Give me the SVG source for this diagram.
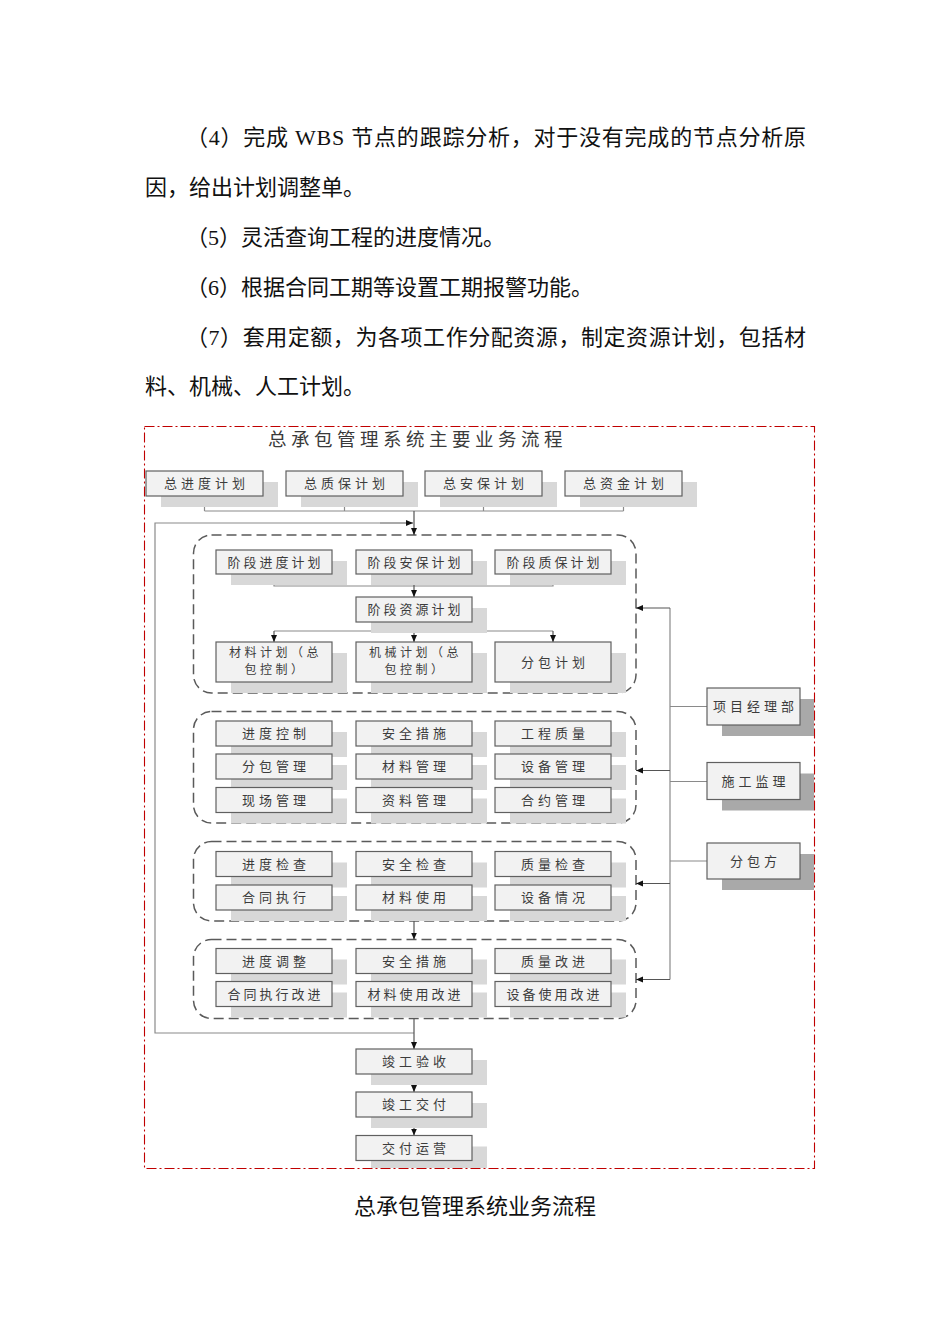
<svg xmlns="http://www.w3.org/2000/svg" width="950" height="1344" viewBox="0 0 950 1344">
<defs>
<style>
.p{font-family:"Liberation Serif","Noto Sans CJK SC",serif;font-size:22px;fill:#111}
.cap{font-family:"Noto Sans CJK SC",sans-serif;font-size:22px;fill:#111;text-anchor:middle}
.ttl{font-family:"Noto Sans CJK SC",sans-serif;font-size:18.5px;fill:#3a3a3a;letter-spacing:4.5px}
.bx{fill:#f2f2f2;stroke:#606060;stroke-width:1.2}
.sh{fill:#d8d8d8}
.shd{fill:#a9a9a9}
.t{font-family:"Noto Sans CJK SC",sans-serif;font-size:13px;fill:#3c3c3c;letter-spacing:4px;text-anchor:middle}
.t2{letter-spacing:3px}
.t3{font-size:12px;letter-spacing:3.5px}
.grp{fill:none;stroke:#5a5a5a;stroke-width:1.5;stroke-dasharray:10 5}
.ln{fill:none;stroke:#8a8a8a;stroke-width:1.2}
.ar{fill:none;stroke:#555;stroke-width:1.2;marker-end:url(#arw)}
.frame{fill:none;stroke:#c00000;stroke-width:1.1;stroke-dasharray:10 3 2 3}
</style>
<marker id="arw" markerUnits="userSpaceOnUse" markerWidth="8" markerHeight="7" refX="7" refY="3" orient="auto">
<path d="M0,0 L7,3 L0,6 z" fill="#111"/>
</marker>
</defs>
<rect width="950" height="1344" fill="#fff"/>

<g id="body-text">
<text class="p" x="186" y="145" textLength="620" lengthAdjust="spacing">（4）完成 WBS 节点的跟踪分析，对于没有完成的节点分析原</text>
<text class="p" x="145" y="195">因，给出计划调整单。</text>
<text class="p" x="186" y="245">（5）灵活查询工程的进度情况。</text>
<text class="p" x="186" y="295">（6）根据合同工期等设置工期报警功能。</text>
<text class="p" x="186" y="345" textLength="620" lengthAdjust="spacing">（7）套用定额，为各项工作分配资源，制定资源计划，包括材</text>
<text class="p" x="145" y="394">料、机械、人工计划。</text>
</g>

<rect class="frame" x="144.5" y="426.5" width="670" height="742"/>
<text class="ttl" x="268" y="446">总承包管理系统主要业务流程</text>

<g id="groups">
<rect id="grp-stage" class="grp" x="193.5" y="535" width="442.5" height="158" rx="18"/>
<rect id="grp-manage" class="grp" x="193.5" y="711.5" width="442.5" height="111.5" rx="18"/>
<rect id="grp-check" class="grp" x="193.5" y="841.5" width="442.5" height="79.5" rx="18"/>
<rect id="grp-improve" class="grp" x="193.5" y="939.5" width="442.5" height="79" rx="18"/>
</g>

<g id="connectors">
<path class="ln" d="M204.5,496 V511 M344.5,496 V511 M483.5,496 V511 M623.5,496 V511 M204.5,511 H623.5"/>
<path class="ar" d="M414,511 V535"/>
<path class="ln" d="M414,1033 H155 V523 H380"/>
<path class="ar" d="M380,523 H413"/>
<path class="ln" d="M274,574 V586 H553 V574"/>
<path class="ar" d="M414,574 V597"/>
<path class="ln" d="M414,622 V631 M274,631 H553"/>
<path class="ar" d="M274,631 V642"/>
<path class="ar" d="M414,631 V642"/>
<path class="ar" d="M553,631 V642"/>
<path class="ln" d="M707,706.5 H670 M707,781.5 H670 M707,861 H670 M670,608 V979.5"/>
<path class="ar" d="M670,608 H636"/>
<path class="ar" d="M670,770.5 H636"/>
<path class="ar" d="M670,883.5 H636"/>
<path class="ar" d="M670,979.5 H636"/>
<path class="ar" d="M414,921 V939.5"/>
<path class="ar" d="M414,1018.5 V1049"/>
<path class="ar" d="M414,1074 V1092"/>
<path class="ar" d="M414,1117 V1135.5"/>
</g>

<g id="n-zjd"><rect class="sh" x="161" y="482" width="117" height="25"/><rect class="bx" x="146" y="471" width="117" height="25"/><text class="t" x="206.5" y="488">总进度计划</text></g>
<g id="n-zzb"><rect class="sh" x="301" y="482" width="117" height="25"/><rect class="bx" x="286" y="471" width="117" height="25"/><text class="t" x="346.5" y="488">总质保计划</text></g>
<g id="n-zab"><rect class="sh" x="440" y="482" width="117" height="25"/><rect class="bx" x="425" y="471" width="117" height="25"/><text class="t" x="485.5" y="488">总安保计划</text></g>
<g id="n-zzj"><rect class="sh" x="580" y="482" width="117" height="25"/><rect class="bx" x="565" y="471" width="117" height="25"/><text class="t" x="625.5" y="488">总资金计划</text></g>

<g id="n-jdjd"><rect class="sh" x="231" y="561" width="116" height="24"/><rect class="bx" x="216" y="550" width="116" height="24"/><text class="t t2" x="275.5" y="566.5">阶段进度计划</text></g>
<g id="n-jdab"><rect class="sh" x="371" y="561" width="116" height="24"/><rect class="bx" x="356" y="550" width="116" height="24"/><text class="t t2" x="415.5" y="566.5">阶段安保计划</text></g>
<g id="n-jdzb"><rect class="sh" x="510" y="561" width="116" height="24"/><rect class="bx" x="495" y="550" width="116" height="24"/><text class="t t2" x="554.5" y="566.5">阶段质保计划</text></g>
<g id="n-jdzy"><rect class="sh" x="371" y="608" width="116" height="25"/><rect class="bx" x="356" y="597" width="116" height="25"/><text class="t t2" x="415.5" y="614">阶段资源计划</text></g>

<g id="n-clxh"><rect class="sh" x="231" y="653" width="116" height="40"/><rect class="bx" x="216" y="642" width="116" height="40"/><text class="t t3" x="275.5" y="656.5">材料计划（总</text><text class="t t3" x="275.5" y="674">包控制）</text></g>
<g id="n-jxjh"><rect class="sh" x="371" y="653" width="116" height="40"/><rect class="bx" x="356" y="642" width="116" height="40"/><text class="t t3" x="415.5" y="656.5">机械计划（总</text><text class="t t3" x="415.5" y="674">包控制）</text></g>
<g id="n-fbjh"><rect class="sh" x="510" y="653" width="116" height="40"/><rect class="bx" x="495" y="642" width="116" height="40"/><text class="t" x="555" y="666.5">分包计划</text></g>

<g id="n-jdkz"><rect class="sh" x="231" y="732" width="116" height="25"/><rect class="bx" x="216" y="721" width="116" height="25"/><text class="t" x="276" y="738">进度控制</text></g>
<g id="n-aqcs"><rect class="sh" x="371" y="732" width="116" height="25"/><rect class="bx" x="356" y="721" width="116" height="25"/><text class="t" x="416" y="738">安全措施</text></g>
<g id="n-gczl"><rect class="sh" x="510" y="732" width="116" height="25"/><rect class="bx" x="495" y="721" width="116" height="25"/><text class="t" x="555" y="738">工程质量</text></g>
<g id="n-fbgl"><rect class="sh" x="231" y="765" width="116" height="25"/><rect class="bx" x="216" y="754" width="116" height="25"/><text class="t" x="276" y="771">分包管理</text></g>
<g id="n-clgl"><rect class="sh" x="371" y="765" width="116" height="25"/><rect class="bx" x="356" y="754" width="116" height="25"/><text class="t" x="416" y="771">材料管理</text></g>
<g id="n-sbgl"><rect class="sh" x="510" y="765" width="116" height="25"/><rect class="bx" x="495" y="754" width="116" height="25"/><text class="t" x="555" y="771">设备管理</text></g>
<g id="n-xcgl"><rect class="sh" x="231" y="798.5" width="116" height="25"/><rect class="bx" x="216" y="787.5" width="116" height="25"/><text class="t" x="276" y="804.5">现场管理</text></g>
<g id="n-zlgl"><rect class="sh" x="371" y="798.5" width="116" height="25"/><rect class="bx" x="356" y="787.5" width="116" height="25"/><text class="t" x="416" y="804.5">资料管理</text></g>
<g id="n-hygl"><rect class="sh" x="510" y="798.5" width="116" height="25"/><rect class="bx" x="495" y="787.5" width="116" height="25"/><text class="t" x="555" y="804.5">合约管理</text></g>

<g id="n-jdjc"><rect class="sh" x="231" y="862.5" width="116" height="25"/><rect class="bx" x="216" y="851.5" width="116" height="25"/><text class="t" x="276" y="868.5">进度检查</text></g>
<g id="n-aqjc"><rect class="sh" x="371" y="862.5" width="116" height="25"/><rect class="bx" x="356" y="851.5" width="116" height="25"/><text class="t" x="416" y="868.5">安全检查</text></g>
<g id="n-zljc"><rect class="sh" x="510" y="862.5" width="116" height="25"/><rect class="bx" x="495" y="851.5" width="116" height="25"/><text class="t" x="555" y="868.5">质量检查</text></g>
<g id="n-htzx"><rect class="sh" x="231" y="896" width="116" height="25"/><rect class="bx" x="216" y="885" width="116" height="25"/><text class="t" x="276" y="902">合同执行</text></g>
<g id="n-clsy"><rect class="sh" x="371" y="896" width="116" height="25"/><rect class="bx" x="356" y="885" width="116" height="25"/><text class="t" x="416" y="902">材料使用</text></g>
<g id="n-sbqk"><rect class="sh" x="510" y="896" width="116" height="25"/><rect class="bx" x="495" y="885" width="116" height="25"/><text class="t" x="555" y="902">设备情况</text></g>

<g id="n-jdtz"><rect class="sh" x="231" y="959.5" width="116" height="25"/><rect class="bx" x="216" y="948.5" width="116" height="25"/><text class="t" x="276" y="965.5">进度调整</text></g>
<g id="n-aqcs2"><rect class="sh" x="371" y="959.5" width="116" height="25"/><rect class="bx" x="356" y="948.5" width="116" height="25"/><text class="t" x="416" y="965.5">安全措施</text></g>
<g id="n-zlgj"><rect class="sh" x="510" y="959.5" width="116" height="25"/><rect class="bx" x="495" y="948.5" width="116" height="25"/><text class="t" x="555" y="965.5">质量改进</text></g>
<g id="n-htgj"><rect class="sh" x="231" y="992.5" width="116" height="25"/><rect class="bx" x="216" y="981.5" width="116" height="25"/><text class="t t2" x="275.5" y="998.5">合同执行改进</text></g>
<g id="n-clgj"><rect class="sh" x="371" y="992.5" width="116" height="25"/><rect class="bx" x="356" y="981.5" width="116" height="25"/><text class="t t2" x="415.5" y="998.5">材料使用改进</text></g>
<g id="n-sbgj"><rect class="sh" x="510" y="992.5" width="116" height="25"/><rect class="bx" x="495" y="981.5" width="116" height="25"/><text class="t t2" x="554.5" y="998.5">设备使用改进</text></g>

<g id="n-xmjlb"><rect class="shd" x="722" y="699" width="92" height="37"/><rect class="bx" x="707" y="688" width="93" height="37"/><text class="t" x="755.5" y="711">项目经理部</text></g>
<g id="n-sgjl"><rect class="shd" x="722" y="773.5" width="92" height="37"/><rect class="bx" x="707" y="762.5" width="93" height="37"/><text class="t" x="755.5" y="785.5">施工监理</text></g>
<g id="n-fbf"><rect class="shd" x="722" y="854" width="92" height="36"/><rect class="bx" x="707" y="843" width="93" height="36"/><text class="t" x="755.5" y="865.5">分包方</text></g>

<g id="n-jgys"><rect class="sh" x="371" y="1060" width="116" height="25"/><rect class="bx" x="356" y="1049" width="116" height="25"/><text class="t" x="416" y="1066">竣工验收</text></g>
<g id="n-jgjf"><rect class="sh" x="371" y="1103" width="116" height="25"/><rect class="bx" x="356" y="1092" width="116" height="25"/><text class="t" x="416" y="1109">竣工交付</text></g>
<g id="n-jfyy"><rect class="sh" x="371" y="1146.5" width="116" height="21.5"/><rect class="bx" x="356" y="1135.5" width="116" height="25"/><text class="t" x="416" y="1152.5">交付运营</text></g>

<text class="cap" x="475" y="1214">总承包管理系统业务流程</text>
</svg>
